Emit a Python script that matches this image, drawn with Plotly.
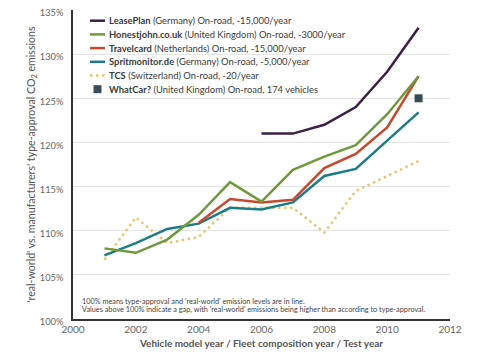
import plotly.graph_objects as go

# ---- data ----
years_leaseplan = [2006, 2007, 2008, 2009, 2010, 2011]
leaseplan = [121.0, 121.0, 122.0, 124.0, 128.0, 133.0]

years_honestjohn = [2001, 2002, 2003, 2004, 2005, 2006, 2007, 2008, 2009, 2010, 2011]
honestjohn = [108.0, 107.5, 109.0, 111.8, 115.5, 113.3, 116.9, 118.4, 119.7, 123.2, 127.5]

years_travelcard = [2004, 2005, 2006, 2007, 2008, 2009, 2010, 2011]
travelcard = [110.9, 113.6, 113.2, 113.5, 117.1, 118.7, 121.7, 127.5]

years_spritmonitor = [2001, 2002, 2003, 2004, 2005, 2006, 2007, 2008, 2009, 2010, 2011]
spritmonitor = [107.2, 108.6, 110.2, 110.8, 112.6, 112.4, 113.2, 116.2, 117.0, 120.2, 123.4]

years_tcs = [2001, 2002, 2003, 2004, 2005, 2006, 2007, 2008, 2009, 2010, 2011]
tcs = [106.7, 111.5, 108.6, 109.3, 112.6, 112.6, 112.6, 109.8, 114.5, 116.2, 117.9]

years_whatcar = [2011]
whatcar = [125.0]

legend_names = [
    ("LeasePlan", " (Germany) On-road, -15,000/year"),
    ("Honestjohn.co.uk", " (United Kingdom) On-road, -3000/year"),
    ("Travelcard", " (Netherlands) On-road, -15,000/year"),
    ("Spritmonitor.de", " (Germany) On-road, -5,000/year"),
    ("TCS", " (Switzerland) On-road, -20/year"),
    ("WhatCar?", " (United Kingdom) On-road, 174 vehicles"),
]

y_ticks = [100, 105, 110, 115, 120, 125, 130, 135]
y_tick_labels = ["100%", "105%", "110%", "115%", "120%", "125%", "130%", "135%"]
x_ticks = [2000, 2002, 2004, 2006, 2008, 2010, 2012]

note_lines = [
    "100% means type-approval and 'real-world' emission levels are in line.",
    "Values above 100% indicate a gap, with 'real-world' emissions being higher than according to type-approval.",
]

# ---- styles ----
C_LP = "#3b1f45"
C_HJ = "#6f9a3c"
C_TC = "#c9472b"
C_SM = "#1b7d8a"
C_TCS = "#e9c46f"
C_WC = "#3a4a56"
FONT = "Lato"

# the page body adds an 8px offset; size the figure to fill the rest of the window
OFF = 8
W, H = 500 - OFF, 355 - OFF
L, R, T, B = 73 - OFF, 50, 10 - OFF, 36
PW, PH = W - L - R, H - T - B

fig = go.Figure()
fig.add_trace(go.Scatter(x=years_tcs, y=tcs, mode="lines",
                         line=dict(color=C_TCS, width=2.5, dash="2.5px,3.5px")))
fig.add_trace(go.Scatter(x=years_spritmonitor, y=spritmonitor, mode="lines",
                         line=dict(color=C_SM, width=2.5)))
fig.add_trace(go.Scatter(x=years_travelcard, y=travelcard, mode="lines",
                         line=dict(color=C_TC, width=2.5)))
fig.add_trace(go.Scatter(x=years_honestjohn, y=honestjohn, mode="lines",
                         line=dict(color=C_HJ, width=2.5)))
fig.add_trace(go.Scatter(x=years_leaseplan, y=leaseplan, mode="lines",
                         line=dict(color=C_LP, width=2.5)))
fig.add_trace(go.Scatter(x=years_whatcar, y=whatcar, mode="markers",
                         marker=dict(symbol="square", size=8, color=C_WC)))


def px2paper(px, py):
    # px, py in screenshot pixels
    fx, fy = px - OFF, py - OFF
    return (fx - L) / PW, (H - B - fy) / PH


# manual legend
colors = [C_LP, C_HJ, C_TC, C_SM, C_TCS, C_WC]
shapes = []
annotations = []
for i, ((bold, rest), col) in enumerate(zip(legend_names, colors)):
    py = 20.7 + 13.7 * i
    x0, y0 = px2paper(90, py)
    x1, _ = px2paper(105, py)
    if i == 5:
        a0, b0 = px2paper(93.5, py + 4)
        a1, b1 = px2paper(101.5, py - 4)
        shapes.append(dict(type="rect", xref="paper", yref="paper", x0=a0, x1=a1,
                           y0=b0, y1=b1, fillcolor=col, line=dict(width=0)))
    else:
        shapes.append(dict(type="line", xref="paper", yref="paper", x0=x0, x1=x1,
                           y0=y0, y1=y0,
                           line=dict(color=col, width=2.5,
                                     dash="2.5px,3.5px" if i == 4 else "solid")))
    tx, ty = px2paper(107, py)
    annotations.append(dict(xref="paper", yref="paper", x=tx, y=ty, xanchor="left",
                            yanchor="middle", showarrow=False,
                            text=f"<b>{bold}</b>{rest}",
                            font=dict(family=FONT, size=9.4, color="#3a3a3a")))

# note text
for j, line in enumerate(note_lines):
    tx, ty = px2paper(80, 301.5 + 7.6 * j)
    annotations.append(dict(xref="paper", yref="paper", x=tx, y=ty, xanchor="left",
                            yanchor="middle", showarrow=False, text=line,
                            font=dict(family=FONT, size=7.3, color="#444")))

fig.update_layout(
    width=W, height=H,
    margin=dict(l=L, r=R, t=T, b=B, pad=0),
    paper_bgcolor="white", plot_bgcolor="white",
    showlegend=False,
    font=dict(family=FONT, color="#555"),
    shapes=shapes,
    annotations=annotations,
    xaxis=dict(range=[2000, 2012], tickvals=x_ticks, showgrid=False, zeroline=False,
               showline=True, linecolor="#333", linewidth=1.5, automargin=False,
               ticklabeloverflow="allow",
               tickfont=dict(family=FONT, size=10, color="#666"),
               title=dict(text="<b>Vehicle model year / Fleet composition year / Test year</b>",
                          font=dict(family=FONT, size=10, color="#555"), standoff=6)),
    yaxis=dict(range=[100, 135], tickvals=y_ticks, ticktext=y_tick_labels,
               showgrid=True, gridcolor="#e4e4e4", gridwidth=1, zeroline=False,
               showline=True, linecolor="#333", linewidth=1.5, automargin=False,
               ticklabelstandoff=6, ticklabeloverflow="allow", ticklabelshift=3,
               tickfont=dict(family=FONT, size=9.3, color="#666"),
               title=dict(text="'real-world' vs. manufacturers' type-approval CO<sub>2</sub> emissions",
                          font=dict(family=FONT, size=10.6, color="#555"), standoff=2)),
)

fig.write_html("out.html")
